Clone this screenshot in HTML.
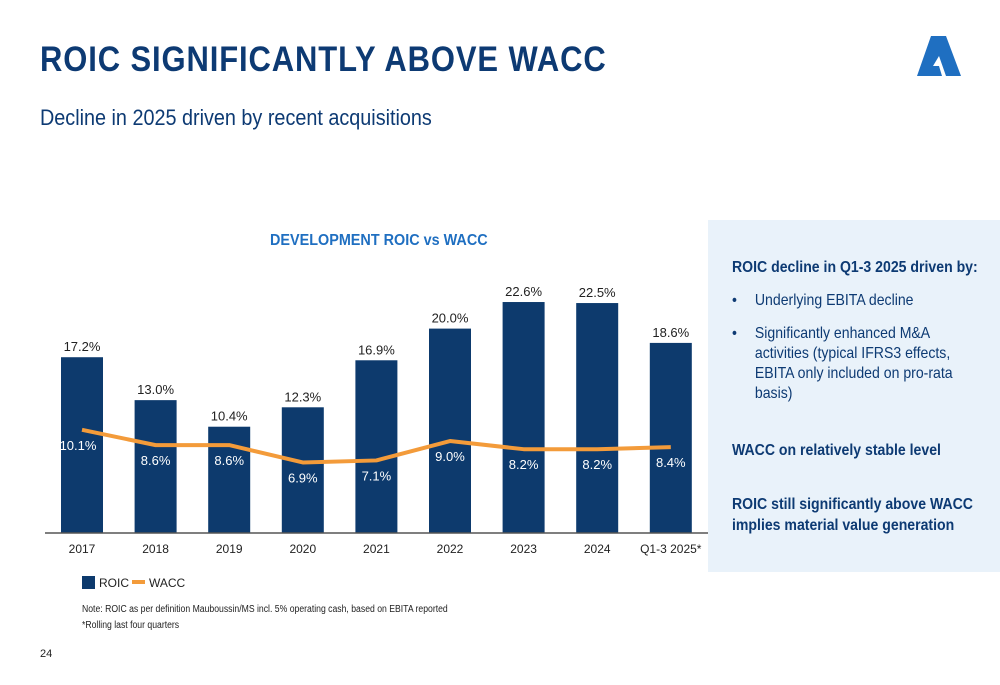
<!DOCTYPE html>
<html><head><meta charset="utf-8"><style>
body{margin:0;width:1000px;height:685px;background:#fff;font-family:"Liberation Sans",sans-serif;position:relative;overflow:hidden}
.abs{position:absolute}
.nar{transform-origin:0 0}
</style></head><body>
<div class="abs nar" style="left:40px;top:40px;font-size:35px;font-weight:bold;color:#0d3a73;letter-spacing:1px;transform:scaleX(0.885);white-space:nowrap">ROIC SIGNIFICANTLY ABOVE WACC</div>
<div class="abs nar" style="left:40px;top:105px;font-size:22px;color:#0d3a73;transform:scaleX(0.9);white-space:nowrap">Decline in 2025 driven by recent acquisitions</div>
<svg class="abs" style="left:0;top:0" width="1000" height="100"><path d="M931 36 L946 36 L961 76 L946 76 L939 56 L933 66 L939 66 L942 76 L917 76 Z" fill="#1f6fc1"/></svg>
<div class="abs nar" style="left:270px;top:232px;font-size:16px;font-weight:bold;color:#1f6fc1;transform:scaleX(0.9);white-space:nowrap">DEVELOPMENT ROIC vs WACC</div>
<svg id="chart" class="abs" style="left:0;top:0" width="708" height="600"></svg>
<div class="abs" style="left:82px;top:576px;font-size:12px;color:#222"><span style="display:inline-block;width:13px;height:13px;background:#0d3a6d;vertical-align:-2px;margin-right:4px"></span>ROIC</div>
<div class="abs" style="left:132px;top:576px;font-size:12px;color:#222"><span style="display:inline-block;width:13px;height:4px;background:#f39b3a;vertical-align:3px;margin-right:4px"></span>WACC</div>
<div class="abs nar" style="left:82px;top:602px;font-size:10px;color:#222;line-height:16px;transform:scaleX(0.865);white-space:nowrap">Note: ROIC as per definition Mauboussin/MS incl. 5% operating cash, based on EBITA reported<br>*Rolling last four quarters</div>
<div class="abs" style="left:40px;top:648px;font-size:11px;color:#222">24</div>
<div class="abs" style="left:708px;top:220px;width:292px;height:352px;background:#e9f2fa;color:#0d3a73;font-size:16px">
<div class="nar" style="position:absolute;left:24px;top:0;width:300px;height:352px;transform:scaleX(0.88)">
<div style="position:absolute;left:0;top:39px;font-weight:bold;white-space:nowrap">ROIC decline in Q1-3 2025 driven by:</div>
<div style="position:absolute;left:0;top:71px;width:300px;line-height:20px"><span style="position:absolute;left:0">•</span><div style="margin-left:26px;width:261px">Underlying EBITA decline</div></div>
<div style="position:absolute;left:0;top:104px;width:300px;line-height:20px"><span style="position:absolute;left:0">•</span><div style="margin-left:26px;width:261px">Significantly enhanced M&amp;A activities (typical IFRS3 effects, EBITA only included on pro-rata basis)</div></div>
<div style="position:absolute;left:0;top:222px;font-weight:bold;white-space:nowrap">WACC on relatively stable level</div>
<div style="position:absolute;left:0;top:274px;font-weight:bold;line-height:21px;width:310px">ROIC still significantly above WACC implies material value generation</div>
</div>
</div>
<script>
const categories=["2017","2018","2019","2020","2021","2022","2023","2024","Q1-3 2025*"];
const roic=[17.2,13.0,10.4,12.3,16.9,20.0,22.6,22.5,18.6];
const wacc=[10.1,8.6,8.6,6.9,7.1,9.0,8.2,8.2,8.4];
const svg=document.getElementById('chart');
const NS="http://www.w3.org/2000/svg";
const base=533,scale=10.22,x0=82,step=73.6,bw=42;
const X=i=>x0+i*step;
const Y=v=>base-v*scale;
function mk(t,a){const e=document.createElementNS(NS,t);for(const k in a)e.setAttribute(k,a[k]);svg.appendChild(e);return e;}
function txt(x,y,s,fill,size){const t=mk('text',{x:x,y:y,'text-anchor':'middle','font-size':size,fill:fill,'font-family':'Liberation Sans, sans-serif'});t.textContent=s;return t;}
roic.forEach((v,i)=>{
 const r=mk('rect',{x:X(i)-bw/2,y:Y(v),width:bw,height:v*scale,fill:'#0d3a6d'});
 
 
 const t=txt(X(i),Y(v)-6,v.toFixed(1)+'%','#222',13);
 
 
 const c=txt(X(i),base+20,categories[i],'#222',12);
 
 
});
const ax=mk('line',{x1:45,x2:708,y1:base,y2:base,stroke:'#555','stroke-width':1.5});


const pl=mk('polyline',{points:wacc.map((v,i)=>X(i)+','+Y(v)).join(' '),fill:'none',stroke:'#f39b3a','stroke-width':4,'stroke-linejoin':'round'});


wacc.forEach((v,i)=>{
 const t=txt(X(i)-(i==0?4:0),Y(v)+20,v.toFixed(1)+'%','#fff',13);
 
 
});
</script>
</body></html>
